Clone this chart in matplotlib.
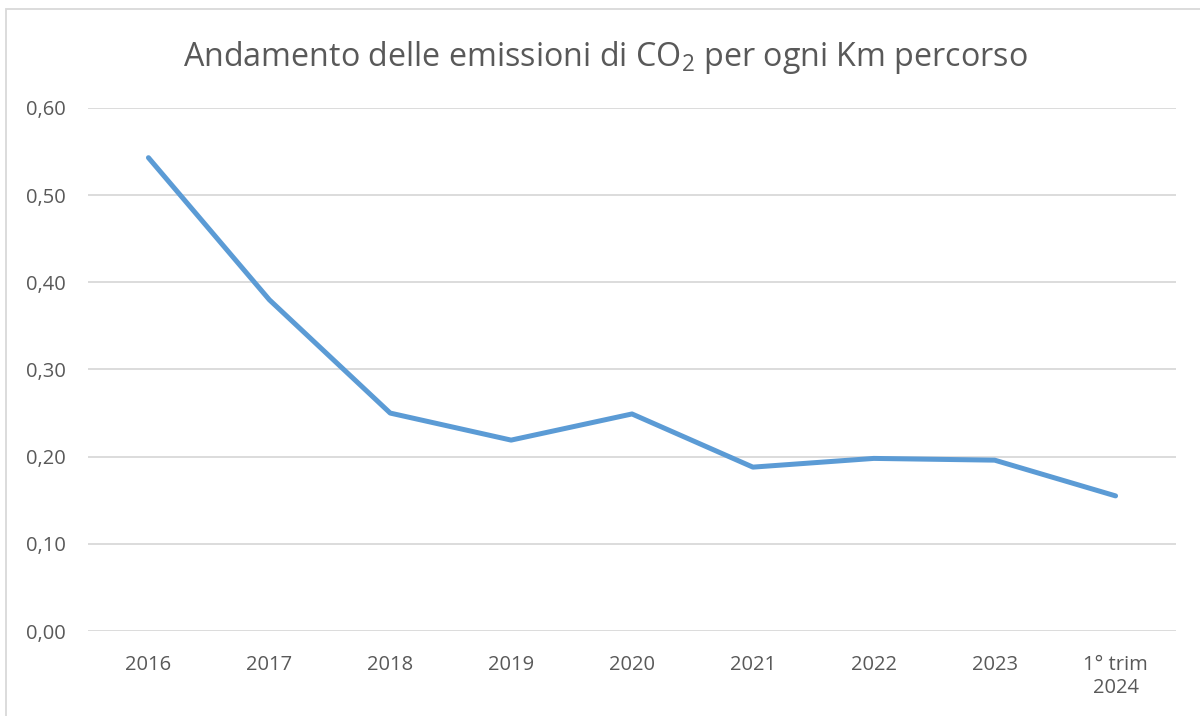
import matplotlib
matplotlib.use("Agg")
import matplotlib.pyplot as plt
from matplotlib.patches import Rectangle

# dati
categorie = ["2016", "2017", "2018", "2019", "2020", "2021", "2022", "2023", "1° trim\n2024"]
emissioni = [0.543, 0.380, 0.250, 0.219, 0.249, 0.188, 0.198, 0.196, 0.155]
y_ticks = [0.0, 0.1, 0.2, 0.3, 0.4, 0.5, 0.6]
y_labels = ["0,00", "0,10", "0,20", "0,30", "0,40", "0,50", "0,60"]

plt.rcParams["font.family"] = ["Open Sans", "DejaVu Sans"]
grigio = "#595959"

fig = plt.figure(figsize=(12, 7.16), dpi=100)
W, H = 1200, 716
ax = fig.add_axes([88 / W, 1 - 631 / H, (1176 - 88) / W, (631 - 108) / H])

x = list(range(len(categorie)))
ax.plot(x, emissioni, color="#5B9BD5", linewidth=3.6, solid_capstyle="round",
        solid_joinstyle="round", zorder=3)

ax.set_xlim(-0.5, len(categorie) - 0.5)
ax.set_ylim(0, 0.6)
ax.set_yticks(y_ticks)
ax.set_yticklabels(y_labels)
ax.set_xticks(x)
ax.set_xticklabels(categorie, linespacing=1.25)
ax.grid(axis="y", color="#D9D9D9", linewidth=1.3)
ax.set_axisbelow(True)
for s in ax.spines.values():
    s.set_visible(False)
ax.tick_params(axis="both", length=0, labelsize=14.5, colors=grigio)
ax.tick_params(axis="x", pad=17)
ax.tick_params(axis="y", pad=16)

fig.text(605 / W, 1 - 57 / H, "Andamento delle emissioni di CO$\\mathregular{_2}$ per ogni Km percorso",
         ha="center", va="center", fontsize=23.2, color=grigio)

# bordo del riquadro
fig.patches.append(Rectangle((6 / W, -0.1), 1.2, 1 - 9 / H + 0.1, transform=fig.transFigure,
                             fill=False, edgecolor="#D9D9D9", linewidth=1.3))

fig.savefig("out.png", dpi=100)
